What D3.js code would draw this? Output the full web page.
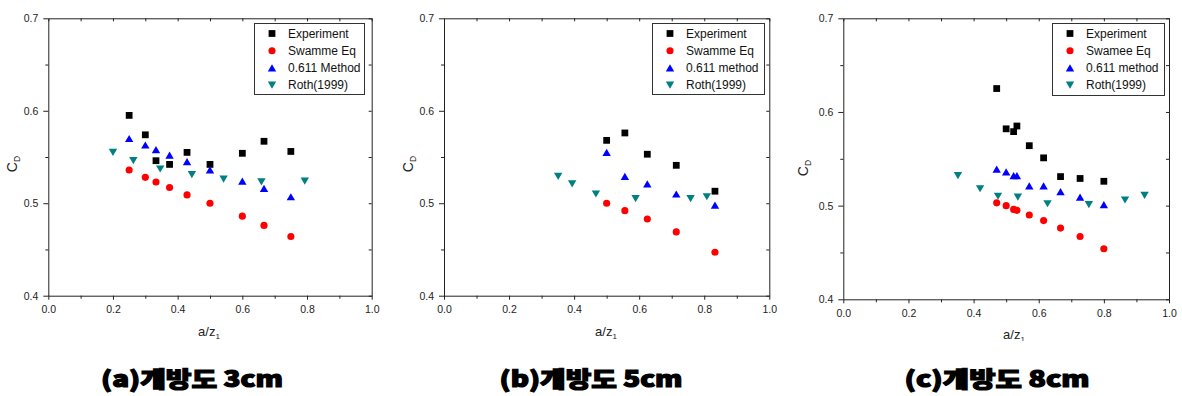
<!DOCTYPE html>
<html>
<head>
<meta charset="utf-8">
<script src="https://cdn.jsdelivr.net/npm/d3@7"></script>
<style>
  body { margin: 0; background: #fff; }
  svg { display: block; font-family: "Liberation Sans", Arial, sans-serif; }
</style>
</head>
<body>
<svg id="chart" width="1182" height="396"></svg>
<script>
// (a) opening 3cm
var xA = [0.25, 0.30, 0.333, 0.375, 0.429, 0.50, 0.60, 0.667, 0.75];
var expA = [0.595, 0.574, 0.546, 0.542, 0.555, 0.542, 0.554, 0.567, 0.556];
var swaA = [0.536, 0.528, 0.523, 0.517, 0.509, 0.500, 0.486, 0.476, 0.464];
var metA = [0.570, 0.563, 0.558, 0.552, 0.545, 0.536, 0.524, 0.516, 0.507];
var rothXA = [0.20, 0.263, 0.346, 0.444, 0.542, 0.659, 0.793];
var rothA = [0.555, 0.546, 0.537, 0.531, 0.526, 0.523, 0.524];
var labelsA = ["Experiment", "Swamme Eq", "0.611 Method", "Roth(1999)"];

// (b) opening 5cm
var xB = [0.50, 0.556, 0.625, 0.714, 0.833];
var expB = [0.568, 0.576, 0.553, 0.541, 0.513];
var swaB = [0.500, 0.492, 0.483, 0.469, 0.447];
var metB = [0.555, 0.529, 0.521, 0.510, 0.498];
var rothXB = [0.351, 0.394, 0.467, 0.589, 0.758, 0.808];
var rothB = [0.529, 0.521, 0.510, 0.505, 0.505, 0.507];
var labelsB = ["Experiment", "Swamme Eq", "0.611 method", "Roth(1999)"];

// (c) opening 8cm
var xC = [0.471, 0.50, 0.523, 0.533, 0.571, 0.615, 0.667, 0.727, 0.80];
var expC = [0.625, 0.582, 0.579, 0.585, 0.564, 0.551, 0.531, 0.529, 0.526];
var swaC = [0.503, 0.500, 0.496, 0.495, 0.490, 0.484, 0.476, 0.467, 0.454];
var metC = [0.539, 0.536, 0.532, 0.532, 0.521, 0.521, 0.515, 0.509, 0.501];
var rothXC = [0.352, 0.42, 0.475, 0.536, 0.627, 0.754, 0.865, 0.925];
var rothC = [0.532, 0.518, 0.510, 0.509, 0.502, 0.501, 0.506, 0.511];
var labelsC = ["Experiment", "Swamee Eq", "0.611 method", "Roth(1999)"];

var captions = ["(a)개방도 3cm", "(b)개방도 5cm", "(c)개방도 8cm"];

var xTicks = [0, 0.2, 0.4, 0.6, 0.8, 1.0];
var xMinor = [0.1, 0.3, 0.5, 0.7, 0.9];
var yTicks = [0.4, 0.5, 0.6, 0.7];
var yMinor = [0.45, 0.55, 0.65];

var colors = ["#000000", "#ff0000", "#0000ff", "#008080"];

// marker shapes (centered on bounding box)
var squareSym = { draw: function (c, s) { var h = Math.sqrt(s) / 2; c.rect(-h, -h, 2 * h, 2 * h); } };
var triUp = { draw: function (c, s) { var w = 4.2, h = 3.6; c.moveTo(0, -h); c.lineTo(w, h); c.lineTo(-w, h); c.closePath(); } };
var triDown = { draw: function (c, s) { var w = 4.2, h = 3.6; c.moveTo(0, h); c.lineTo(w, -h); c.lineTo(-w, -h); c.closePath(); } };
var shapes = [squareSym, d3.symbolCircle, triUp, triDown];
var sizes = [46, 40, 1, 1];

var panels = [
  { left: 48.3, right: 371.7, top: 18.3, bottom: 295.7, xs: [xA, xA, xA, rothXA], ys: [expA, swaA, metA, rothA], labels: labelsA,
    leg: [254, 364, 23, 94], ylab: [17, 164], xlab: [209, 336], cap: [192, 182] },
  { left: 444, right: 769.3, top: 18.3, bottom: 295.7, xs: [xB, xB, xB, rothXB], ys: [expB, swaB, metB, rothB], labels: labelsB,
    leg: [652, 764, 23, 94], ylab: [413, 164], xlab: [606, 336], cap: [591, 183] },
  { left: 843.3, right: 1169, top: 18.3, bottom: 299.3, xs: [xC, xC, xC, rothXC], ys: [expC, swaC, metC, rothC], labels: labelsC,
    leg: [1052, 1164, 23, 95], ylab: [808, 168], xlab: [1014, 339], cap: [997, 185], clip: 341 }
];

var svg = d3.select("#chart");

svg.append("defs").append("clipPath").attr("id", "clipC")
  .append("rect").attr("x", 780).attr("y", 0).attr("width", 402).attr("height", 341);

panels.forEach(function (p, pi) {
  var g = svg.append("g");
  if (p.clip) g.attr("clip-path", "url(#clipC)");

  var x = d3.scaleLinear().domain([0, 1]).range([p.left, p.right]);
  var y = d3.scaleLinear().domain([0.4, 0.7]).range([p.bottom, p.top]);

  // bottom axis
  g.append("g").attr("transform", "translate(0," + p.bottom + ")")
    .call(d3.axisBottom(x).tickValues(xTicks).tickSize(4).tickSizeOuter(0).tickPadding(6).tickFormat(d3.format(".1f")));
  g.append("g").attr("transform", "translate(0," + p.bottom + ")")
    .call(d3.axisBottom(x).tickValues(xMinor).tickSize(3).tickSizeOuter(0).tickFormat(""))
    .select(".domain").remove();

  // left axis
  g.append("g").attr("transform", "translate(" + p.left + ",0)")
    .call(d3.axisLeft(y).tickValues(yTicks).tickSize(5).tickSizeOuter(0).tickPadding(5).tickFormat(d3.format(".1f")));
  g.append("g").attr("transform", "translate(" + p.left + ",0)")
    .call(d3.axisLeft(y).tickValues(yMinor).tickSize(3).tickSizeOuter(0).tickFormat(""))
    .select(".domain").remove();

  // top / right frame with inward ticks
  g.append("g").attr("transform", "translate(0," + p.top + ")")
    .call(d3.axisTop(x).tickValues(xTicks.concat(xMinor)).tickSize(-3).tickSizeOuter(0).tickFormat(""));
  g.append("g").attr("transform", "translate(" + p.right + ",0)")
    .call(d3.axisRight(y).tickValues(yTicks.concat(yMinor)).tickSize(-3).tickSizeOuter(0).tickFormat(""));

  g.selectAll(".domain, .tick line").attr("stroke", "#222").attr("stroke-width", 1);
  g.selectAll(".tick text").attr("font-size", 10.5).attr("fill", "#222")
    .attr("font-family", "'Liberation Sans', Arial, sans-serif");

  // axis titles
  var yt = g.append("text")
    .attr("transform", "translate(" + p.ylab[0] + "," + p.ylab[1] + ") rotate(-90)")
    .attr("text-anchor", "middle").attr("font-size", 14).attr("fill", "#222");
  yt.append("tspan").text("C");
  yt.append("tspan").attr("font-size", 8.5).attr("dy", 3).text("D");

  var xt = g.append("text").attr("x", p.xlab[0]).attr("y", p.xlab[1])
    .attr("text-anchor", "middle").attr("font-size", 13).attr("fill", "#222");
  xt.append("tspan").text("a/z");
  xt.append("tspan").attr("font-size", 8).attr("dy", 3).text("1");

  // data points
  p.ys.forEach(function (vals, si) {
    var xs = p.xs[si];
    g.append("g").selectAll("path")
      .data(vals)
      .enter().append("path")
      .attr("transform", function (d, i) { return "translate(" + x(xs[i]) + "," + y(d) + ")"; })
      .attr("d", d3.symbol().type(shapes[si]).size(sizes[si]))
      .attr("fill", colors[si]);
  });

  // legend
  var L = p.leg;
  g.append("rect").attr("x", L[0] + 0.5).attr("y", L[2] + 0.5)
    .attr("width", L[1] - L[0]).attr("height", L[3] - L[2])
    .attr("fill", "#fff").attr("stroke", "#333").attr("stroke-width", 1);
  p.labels.forEach(function (lab, si) {
    var ly = L[2] + 10.5 + si * 17.2;
    g.append("path").attr("transform", "translate(" + (L[0] + 18) + "," + ly + ")")
      .attr("d", d3.symbol().type(shapes[si]).size(sizes[si])).attr("fill", colors[si]);
    g.append("text").attr("x", L[0] + 34).attr("y", ly + 4.3)
      .attr("font-size", 12).attr("fill", "#111").text(lab);
  });

  // caption
  svg.append("text").attr("x", p.cap[0]).attr("y", 387)
    .attr("text-anchor", "middle")
    .attr("font-family", "'Noto Sans CJK KR', sans-serif")
    .attr("font-weight", 900).attr("font-size", 22)
    .attr("stroke", "#000").attr("stroke-width", 1.2)
    .attr("textLength", p.cap[1]).attr("lengthAdjust", "spacingAndGlyphs")
    .text(captions[pi]);
});
</script>
</body>
</html>
